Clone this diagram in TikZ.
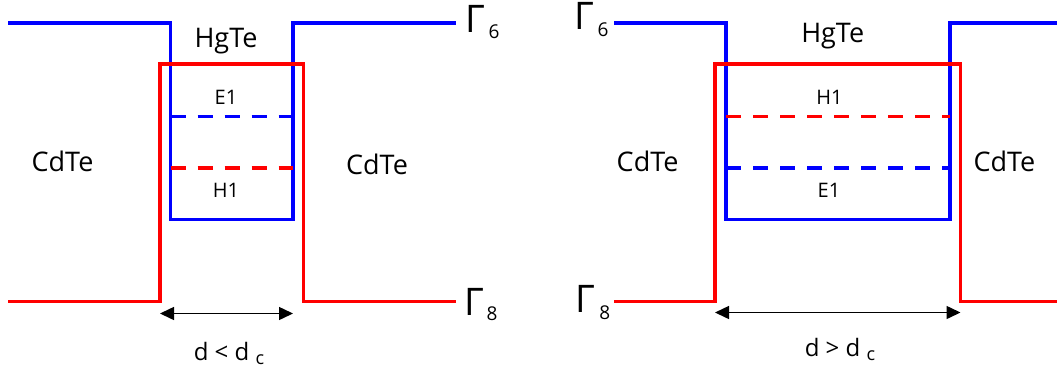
\documentclass[tikz,border=0pt]{standalone}
\usepackage{fontspec}
\setmainfont{Open Sans}
\usetikzlibrary{arrows.meta}
\tikzset{
	cband/.style={blue,line width=3.4pt},
	vband/.style={red,line width=3.4pt},
	sublevel/.style={line width=3.4pt,dash pattern=on 15pt off 12pt},
	bigtxt/.style={anchor=base,inner sep=0pt,font=\fontsize{27}{30}\selectfont},
	smalltxt/.style={anchor=base,inner sep=0pt,font=\fontsize{20}{22}\selectfont},
	gam/.style={anchor=base west,inner sep=0pt,font=\fontsize{38}{40}\selectfont},
	idx/.style={anchor=base,inner sep=0pt,font=\fontsize{19}{20}\selectfont},
	dtxt/.style={anchor=base,inner sep=0pt,font=\fontsize{24}{26}\selectfont},
	width/.style={line width=1.5pt,{Triangle[length=14pt,width=13pt]}-{Triangle[length=14pt,width=13pt]}}
}
\begin{document}
\begin{tikzpicture}[x=1pt,y=-1pt,line join=miter]
	\useasboundingbox (0,0) rectangle (1057,370);
	%%% d < d_c
	\draw[cband] (8,23)--(170.5,23)--(170.5,219.5)--(293,219.5)--(293,23)--(456,23);
	\draw[vband] (8,301.5)--(160,301.5)--(160,64)--(303.5,64)--(303.5,301.5)--(456,301.5);
	\draw[sublevel,blue] (170.5,116.5)--(293,116.5);
	\draw[sublevel,red] (170.5,168)--(293,168);
	\coordinate (L1) at (160,313.5);
	\coordinate (L2) at (293,313.5);
	\draw[width] (L1)--(L2);
	\node[bigtxt] (hgteL) at (226,47.3) {HgTe};
	\node[smalltxt] (e1L) at (226,104.7) {E1};
	\node[smalltxt] (h1L) at (226,197.6) {H1};
	\node[bigtxt] (cdteLa) at (62.5,171.3) {CdTe};
	\node[bigtxt] (cdteLb) at (377,174) {CdTe};
	\node[gam] (g6L) at (465,32.8) {Γ};
	\node[idx] (i6L) at (494,38.2) {6};
	\node[gam] (g8L) at (464,315) {Γ};
	\node[idx] (i8L) at (492,320) {8};
	\node[dtxt] (dL) at (229,360) {d < d {\fontsize{18}{20}\selectfont\raisebox{-4pt}{c}}};
	%%% d > d_c
	\draw[cband] (614,23)--(726,23)--(726,219.5)--(950,219.5)--(950,23)--(1057,23);
	\draw[vband] (614,301.5)--(715,301.5)--(715,64)--(960.5,64)--(960.5,301.5)--(1057,301.5);
	\draw[sublevel,red] (726,116.5)--(950,116.5);
	\draw[sublevel,blue] (726,168)--(950,168);
	\coordinate (R1) at (715,312.5);
	\coordinate (R2) at (960.5,312.5);
	\draw[width] (R1)--(R2);
	\node[bigtxt] (hgteR) at (832.7,42.9) {HgTe};
	\node[smalltxt] (h1R) at (829.4,104.7) {H1};
	\node[smalltxt] (e1R) at (829,197.6) {E1};
	\node[bigtxt] (cdteRa) at (647.6,171.3) {CdTe};
	\node[bigtxt] (cdteRb) at (1004.4,171.3) {CdTe};
	\node[gam] (g6R) at (574,29.7) {Γ};
	\node[idx] (i6R) at (603,36.1) {6};
	\node[gam] (g8R) at (575,312.5) {Γ};
	\node[idx] (i8R) at (604.7,319.3) {8};
	\node[dtxt] (dR) at (840,356) {d > d {\fontsize{18}{20}\selectfont\raisebox{-4pt}{c}}};
\end{tikzpicture}
\end{document}
